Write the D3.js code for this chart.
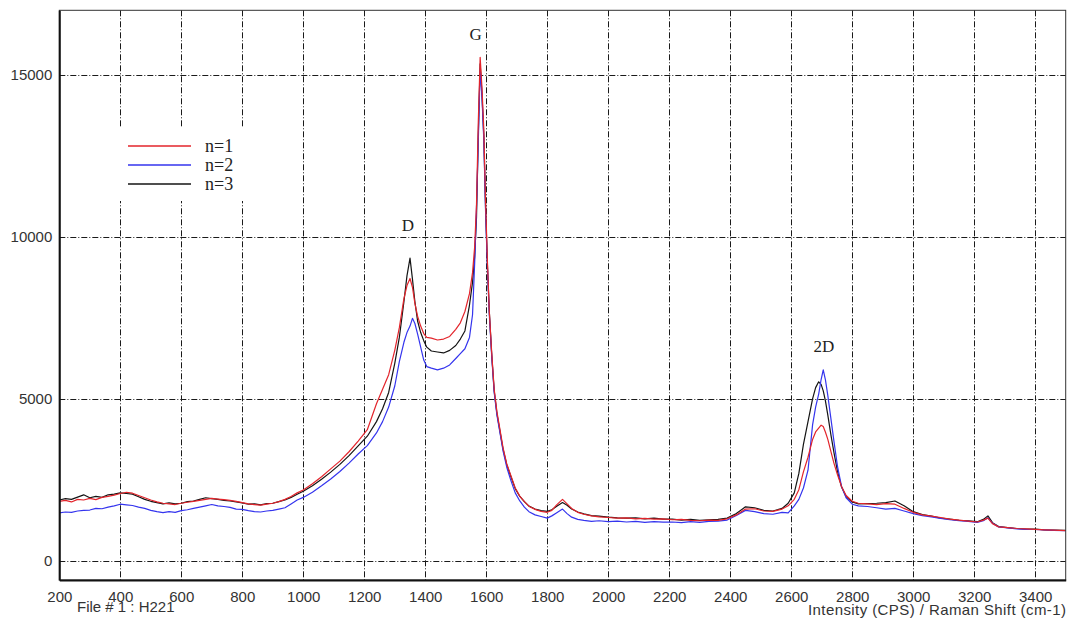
<!DOCTYPE html>
<html>
<head>
<meta charset="utf-8">
<script src="https://cdn.jsdelivr.net/npm/d3@7"></script>
<style>
  body { margin: 0; background: #fff; }
  svg { display: block; }
  .tick-label { font-family: "Liberation Sans", Arial, sans-serif; font-size: 15px; fill: #333; }
  .peak-label { font-family: "Liberation Serif", "Times New Roman", serif; font-size: 17px; fill: #222; }
  .legend-label { font-family: "Liberation Serif", "Times New Roman", serif; font-size: 18px; fill: #222; }
</style>
</head>
<body>
<div id="chart"></div>
<script>
// Raman shift (cm-1), shared by all three spectra
const shift = [
    200, 220, 240, 260, 280, 300, 320, 340, 360, 380,
    400, 420, 440, 460, 480, 500, 520, 540, 560, 580,
    600, 620, 640, 660, 680, 700, 720, 740, 760, 780,
    800, 820, 840, 860, 880, 900, 920, 940, 960, 980,
    1000, 1030, 1060, 1090, 1120, 1150, 1180, 1210, 1240, 1260,
    1280, 1300, 1315, 1330, 1340, 1350, 1358, 1366, 1375, 1385,
    1395, 1405, 1420, 1440, 1460, 1480, 1500, 1515, 1530, 1545,
    1555, 1562, 1568, 1574, 1580, 1586, 1592, 1598, 1604, 1610,
    1618, 1626, 1635, 1645, 1655, 1667, 1680, 1695, 1710, 1725,
    1740, 1760, 1780, 1800, 1815, 1830, 1850, 1865, 1880, 1900,
    1920, 1945, 1970, 2000, 2030, 2060, 2090, 2120, 2150, 2180,
    2210, 2240, 2270, 2300, 2330, 2360, 2390, 2420, 2450, 2480,
    2510, 2540, 2570, 2590, 2610, 2625, 2640, 2655, 2670, 2680,
    2690, 2698, 2705, 2712, 2720, 2730, 2740, 2752, 2765, 2780,
    2800, 2820, 2850, 2880, 2910, 2940, 2970, 3000, 3030, 3060,
    3090, 3120, 3150, 3180, 3210, 3230, 3245, 3260, 3280, 3310,
    3340, 3370, 3400, 3430, 3460, 3500
];

// intensity (CPS), n=1
const n1 = [
    1840, 1870, 1820, 1900, 1880, 1930, 1890, 1960, 1990, 2030,
    2080, 2120, 2090, 2020, 1950, 1880, 1820, 1780, 1760, 1740,
    1780, 1810, 1840, 1870, 1900, 1930, 1910, 1890, 1870, 1840,
    1800, 1760, 1740, 1720, 1750, 1780, 1830, 1900, 1990, 2100,
    2190, 2380, 2600, 2840, 3080, 3370, 3700, 4050, 4850, 5300,
    5750, 6500, 7200, 8100, 8500, 8720, 8450, 7950, 7550, 7250,
    7020, 6900, 6880, 6820, 6850, 6930, 7150, 7350, 7700, 8250,
    8900, 9700, 11000, 13600, 15550, 14600, 13300, 11000, 9200, 7700,
    6400, 5300, 4600, 4050, 3500, 3000, 2650, 2250, 2000, 1830,
    1690, 1590, 1530, 1500, 1560, 1720, 1900, 1760, 1620, 1500,
    1440, 1390, 1360, 1340, 1320, 1330, 1300, 1310, 1290, 1300,
    1270, 1280, 1250, 1240, 1260, 1250, 1300, 1420, 1600, 1610,
    1540, 1530, 1600, 1700, 1900, 2200, 2750, 3200, 3750, 3980,
    4100, 4190, 4150, 3980, 3750, 3380, 3020, 2650, 2300, 2020,
    1840, 1780, 1760, 1740, 1770, 1750, 1620, 1500, 1420, 1380,
    1340, 1290, 1260, 1230, 1200, 1260, 1320, 1150, 1050, 1030,
    1000, 990, 975, 960, 950, 935
];

// intensity (CPS), n=2
const n2 = [
    1480, 1510, 1500, 1540, 1560, 1570, 1620, 1610, 1660, 1700,
    1750, 1730, 1710, 1660, 1620, 1560, 1520, 1490, 1520, 1500,
    1550, 1580, 1620, 1660, 1700, 1740, 1700, 1680, 1650, 1600,
    1590, 1550, 1520, 1510, 1540, 1560, 1600, 1640, 1760, 1880,
    1960, 2120, 2320, 2530, 2760, 3020, 3300, 3560, 3950, 4300,
    4750, 5400, 6150, 6750, 7050, 7250, 7490, 7330, 7000, 6600,
    6200, 6000, 5950, 5900, 5950, 6050, 6250, 6400, 6550, 6900,
    7600, 9200, 10900, 13000, 15200, 14300, 13000, 10700, 9000, 7600,
    6300, 5200, 4500, 3950, 3400, 2900, 2500, 2100, 1850, 1660,
    1520, 1420, 1370, 1320, 1390, 1480, 1600, 1460, 1350, 1280,
    1250, 1220, 1240, 1210, 1230, 1200, 1220, 1190, 1210, 1200,
    1200, 1180, 1210, 1190, 1220, 1230, 1260, 1400, 1560, 1520,
    1460, 1440, 1500, 1480, 1700, 1900, 2250, 2800, 4200, 4750,
    5150, 5600, 5900, 5600, 5100, 4400, 3700, 2900, 2300, 1950,
    1750, 1700, 1680, 1640, 1600, 1620, 1540, 1460, 1400, 1360,
    1310, 1270, 1240, 1220, 1190, 1240, 1330, 1160, 1050, 1020,
    990, 975, 970, 955, 945, 930
];

// intensity (CPS), n=3
const n3 = [
    1880, 1920, 1900, 1970, 2040, 1950, 1990, 1960, 2040, 2060,
    2100, 2080, 2060, 1980, 1900, 1840, 1800, 1760, 1790, 1760,
    1780, 1830, 1850, 1900, 1950, 1920, 1900, 1870, 1850, 1820,
    1790, 1750, 1760, 1730, 1770, 1780, 1830, 1880, 1960, 2060,
    2150, 2320, 2520, 2740, 2980, 3250, 3550, 3850, 4300, 4700,
    5200, 6100, 6900, 8000, 8800, 9350, 8700, 8000, 7400, 7050,
    6800, 6600, 6480, 6450, 6420, 6500, 6650, 6850, 7100, 7900,
    8600, 9400, 10600, 13200, 15350, 14400, 13100, 10800, 9100, 7700,
    6350, 5250, 4550, 4000, 3450, 2980, 2620, 2230, 1990, 1830,
    1690, 1600, 1550, 1530, 1580, 1680, 1800, 1720, 1600, 1510,
    1450, 1400, 1380, 1350, 1330, 1320, 1330, 1300, 1320, 1290,
    1290, 1260, 1280, 1250, 1270, 1280, 1320, 1460, 1670, 1640,
    1560, 1540, 1620, 1780, 2100, 2700, 3600, 4300, 5000, 5350,
    5530, 5450, 5250, 4950, 4500, 3900, 3350, 2750, 2280, 1980,
    1820, 1760, 1770, 1780, 1800, 1850, 1700, 1520, 1430, 1380,
    1320, 1290, 1250, 1240, 1210, 1280, 1390, 1180, 1060, 1030,
    1000, 980, 985, 960, 950, 940
];

const seriesNames = ["n=1", "n=2", "n=3"];
const seriesColors = ["#e3242b", "#3434ee", "#141414"];

const xTicks = [200, 400, 600, 800, 1000, 1200, 1400, 1600, 1800, 2000, 2200, 2400, 2600, 2800, 3000, 3200, 3400];
const yTicks = [0, 5000, 10000, 15000];

const peakLabels = ["D", "G", "2D"];
const peakShift = [1343, 1565, 2707];
const peakValue = [10180, 16080, 6450];

const width = 1074, height = 621;
const margin = { top: 10.3, right: 8.3, bottom: 41, left: 59.3 };

const svg = d3.select("#chart").append("svg")
    .attr("width", width)
    .attr("height", height);

const x = d3.scaleLinear().domain([200, 3500]).range([margin.left, width - margin.right]);
const y = d3.scaleLinear().domain([-590, 17000]).range([height - margin.bottom, margin.top]);

// dash-dot grid
const grid = svg.append("g").attr("class", "grid")
    .attr("stroke", "#1a1a1a")
    .attr("stroke-width", 1)
    .attr("stroke-dasharray", "6,2,1,2");

grid.selectAll(".vgrid").data(xTicks.slice(1))
    .join("line")
    .attr("class", "vgrid")
    .attr("x1", d => Math.round(x(d)) + 0.5)
    .attr("x2", d => Math.round(x(d)) + 0.5)
    .attr("y1", y.range()[1])
    .attr("y2", y.range()[0]);

grid.selectAll(".hgrid").data(yTicks)
    .join("line")
    .attr("class", "hgrid")
    .attr("x1", x.range()[0])
    .attr("x2", x.range()[1])
    .attr("y1", d => Math.round(y(d)) + 0.5)
    .attr("y2", d => Math.round(y(d)) + 0.5);

// legend box hides the grid behind it
const legend = svg.append("g").attr("transform", "translate(100,128)");
legend.append("rect")
    .attr("width", 146)
    .attr("height", 73)
    .attr("fill", "#fff");

seriesNames.forEach((name, i) => {
    const ly = 18 + i * 19;
    legend.append("line")
        .attr("x1", 28).attr("x2", 91)
        .attr("y1", ly).attr("y2", ly)
        .attr("stroke", seriesColors[i])
        .attr("stroke-width", 1.5);
    legend.append("text")
        .attr("class", "legend-label")
        .attr("x", 105)
        .attr("y", ly + 6)
        .text(name);
});

// spectra
const line = d3.line()
    .x(d => x(d[0]))
    .y(d => y(d[1]));

const spectra = [n1, n2, n3];
const drawOrder = [2, 1, 0];
drawOrder.forEach(i => {
    svg.append("path")
        .datum(shift.map((s, k) => [s, spectra[i][k]]))
        .attr("fill", "none")
        .attr("stroke", seriesColors[i])
        .attr("stroke-width", 1.2)
        .attr("stroke-linejoin", "round")
        .attr("d", line);
});

// frame
svg.append("rect")
    .attr("x", x.range()[0])
    .attr("y", y.range()[1])
    .attr("width", x.range()[1] - x.range()[0])
    .attr("height", y.range()[0] - y.range()[1])
    .attr("fill", "none")
    .attr("stroke", "#333")
    .attr("stroke-width", 1);

// axes (labels only, lines drawn separately)
const xAxis = svg.append("g")
    .attr("transform", `translate(0,${y.range()[0]})`)
    .call(d3.axisBottom(x).tickValues(xTicks).tickSize(0).tickPadding(11).tickFormat(d3.format("d")));
xAxis.select(".domain").attr("stroke", "#111").attr("stroke-width", 2);
xAxis.selectAll("text").attr("class", "tick-label").attr("font-family", null).attr("font-size", null).attr("fill", null);

const yAxis = svg.append("g")
    .attr("transform", `translate(${x.range()[0]},0)`)
    .call(d3.axisLeft(y).tickValues(yTicks).tickSize(0).tickPadding(7).tickFormat(d3.format("d")));
yAxis.select(".domain").attr("stroke", "#111").attr("stroke-width", 2);
yAxis.selectAll("text").attr("class", "tick-label").attr("font-family", null).attr("font-size", null).attr("fill", null);

// peak annotations
svg.selectAll(".peak-label").data(peakLabels)
    .join("text")
    .attr("class", "peak-label")
    .attr("x", (d, i) => x(peakShift[i]))
    .attr("y", (d, i) => y(peakValue[i]))
    .attr("text-anchor", "middle")
    .text(d => d);

svg.append("text")
    .attr("class", "tick-label")
    .attr("x", 77)
    .attr("y", 612)
    .attr("fill", "#444")
    .text("File # 1 : H221");

svg.append("text")
    .attr("class", "tick-label")
    .attr("x", 1066)
    .attr("y", 615)
    .attr("text-anchor", "end")
    .attr("textLength", 258)
    .attr("lengthAdjust", "spacing")
    .text("Intensity (CPS) / Raman Shift (cm-1)");
</script>
</body>
</html>
